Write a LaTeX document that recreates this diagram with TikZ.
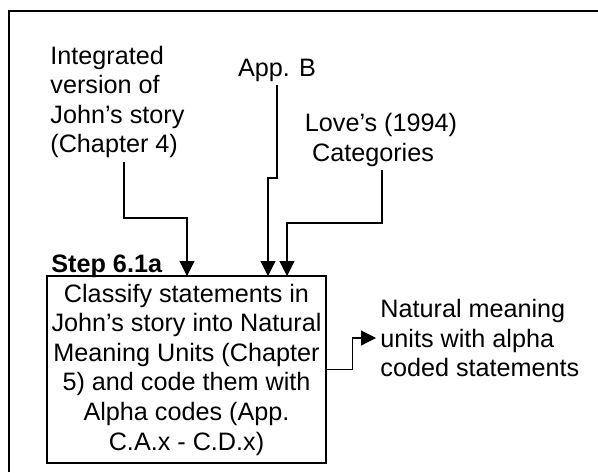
\documentclass[tikz,border=0pt]{standalone}
\usepackage{fontspec}
\setmainfont{Liberation Sans}
\usepackage{tikz}
\usetikzlibrary{arrows.meta}

\tikzset{
    lbl/.style={inner sep=1.5pt, font=\fontsize{12.6}{14.8}\selectfont},
    stepbox/.style={draw, line width=0.7pt, align=center, inner sep=0pt,
        minimum width=139.5pt, minimum height=93.5pt,
        font=\fontsize{12.6}{14.8}\selectfont},
    flow/.style={line width=0.6pt, -{Triangle[length=7.5pt, width=7.5pt]}}
}

\begin{document}
\begin{tikzpicture}[x=0.5pt, y=-0.5pt]
    \useasboundingbox (0,0) rectangle (598,472);
    % Frame
    \draw[line width=1pt] (9,472) -- (9,11) -- (598,11);

    % Inputs
    \node[lbl, align=left, anchor=west] (ints) at (47,102) {Integrated\\version of\\John's story\\(Chapter 4)};
    \node[lbl] (appb) at (277,70) {App. B};
    \node[lbl, align=center] (love) at (381,140) {Love's (1994)\\Categories\hspace*{8pt}};

    % Step box
    \node[stepbox] (box) at (186.5,369.5) {Classify statements in\\John's story into Natural\\Meaning Units (Chapter\\5) and code them with\\Alpha codes (App.\\C.A.x - C.D.x)};
    \node[lbl, font=\fontsize{12.6}{14.8}\selectfont\bfseries, anchor=base west, inner sep=0pt] (step) at (51,272) {Step 6.1a};

    % Output
    \node[lbl, align=left, anchor=west, inner sep=2pt] (nat) at (376,338) {Natural meaning\\units with alpha\\coded statements};

    % Connectors
    \coordinate (bendA) at (124,218);
    \coordinate (bendB) at (268,178);
    \coordinate (bendC) at (382,223);
    \coordinate (inA) at (187,276);
    \coordinate (inB) at (268,276);
    \coordinate (inC) at (287,276);
    \draw[flow] (ints.south -| bendA) -- (bendA) -| (inA);
    \draw[flow] (appb.south) |- (bendB) -- (inB);
    \draw[flow] (love.south -| bendC) -- (bendC) -| (inC);
    \draw[flow] (box.east) -- ++(26,0) |- (nat.west);
\end{tikzpicture}
\end{document}
